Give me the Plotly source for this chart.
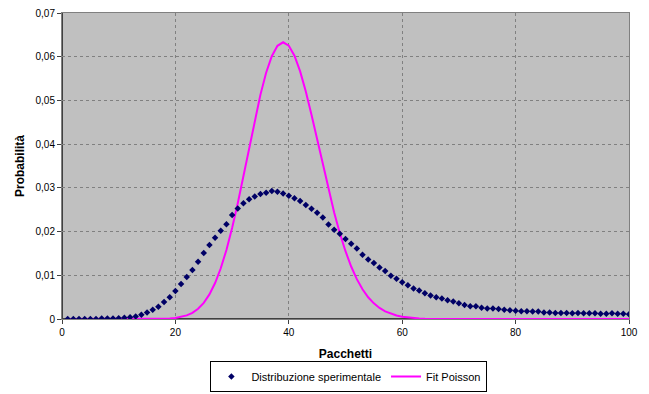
import plotly.graph_objects as go

pacchetti = list(range(1, 101))

distribuzione_sperimentale = [
    0.0000, 0.0000, 0.0000, 0.0000, 0.0000, 0.0000, 0.0001, 0.0001, 0.0001, 0.0002,
    0.0003, 0.0004, 0.0006, 0.0010, 0.0015, 0.0021, 0.0028, 0.0039, 0.0050, 0.0064,
    0.0080, 0.0096, 0.0112, 0.0131, 0.0151, 0.0169, 0.0186, 0.0202, 0.0217, 0.0238,
    0.0253, 0.0265, 0.0274, 0.0280, 0.0286, 0.0289, 0.0293, 0.0291, 0.0287, 0.0282,
    0.0276, 0.0270, 0.0261, 0.0252, 0.0243, 0.0232, 0.0216, 0.0204, 0.0195, 0.0183,
    0.0172, 0.0161, 0.0147, 0.0136, 0.0128, 0.0118, 0.0110, 0.0099, 0.0092, 0.0084,
    0.0077, 0.0070, 0.0065, 0.0059, 0.0054, 0.0050, 0.0047, 0.0043, 0.0040, 0.0036,
    0.0032, 0.0029, 0.0029, 0.0026, 0.0024, 0.0024, 0.0023, 0.0021, 0.0020, 0.0019,
    0.0018, 0.0018, 0.0017, 0.0017, 0.0015, 0.0015, 0.0014, 0.0014, 0.0014, 0.0013,
    0.0014, 0.0013, 0.0013, 0.0013, 0.0012, 0.0012, 0.0013, 0.0012, 0.0012, 0.0011,
]

fit_poisson = [
    0.0, 0.0, 0.0, 0.0, 0.0, 0.0, 0.0, 0.0, 0.0, 0.0,
    0.0, 0.0, 0.0, 0.0, 0.0, 0.00001, 0.00003, 0.00006, 0.00012, 0.00024,
    0.00046, 0.00083, 0.00142, 0.00234, 0.00370, 0.00562, 0.00822, 0.01160, 0.01580, 0.02080,
    0.02650, 0.03271, 0.03915, 0.04548, 0.05133, 0.05632, 0.06013, 0.06250, 0.06330, 0.06251,
    0.06022, 0.05664, 0.05203, 0.04671, 0.04100, 0.03521, 0.02959, 0.02435, 0.01963, 0.01551,
    0.01201, 0.00912, 0.00680, 0.00497, 0.00357, 0.00252, 0.00175, 0.00119, 0.00080, 0.00052,
    0.00034, 0.00022, 0.00014, 0.00008, 0.00005, 0.00003, 0.00002, 0.00001, 0.0, 0.0,
    0.0, 0.0, 0.0, 0.0, 0.0, 0.0, 0.0, 0.0, 0.0, 0.0,
    0.0, 0.0, 0.0, 0.0, 0.0, 0.0, 0.0, 0.0, 0.0, 0.0,
    0.0, 0.0, 0.0, 0.0, 0.0, 0.0, 0.0, 0.0, 0.0, 0.0,
]

x_tick_vals = [0, 20, 40, 60, 80, 100]
x_tick_text = ["0", "20", "40", "60", "80", "100"]
y_tick_vals = [0, 0.01, 0.02, 0.03, 0.04, 0.05, 0.06, 0.07]
y_tick_text = ["0", "0,01", "0,02", "0,03", "0,04", "0,05", "0,06", "0,07"]

font_family = "Liberation Sans, Arial, sans-serif"

fig = go.Figure()
fig.add_trace(go.Scatter(
    x=pacchetti, y=fit_poisson, mode="lines", name="Fit Poisson",
    line=dict(color="#FF00FF", width=2), showlegend=False,
))
fig.add_trace(go.Scatter(
    x=pacchetti, y=distribuzione_sperimentale, mode="markers",
    name="Distribuzione sperimentale",
    marker=dict(symbol="diamond", size=5, color="#000066"),
))
fig.add_trace(go.Scatter(
    x=[None], y=[None], mode="lines", name="Fit Poisson",
    line=dict(color="#FF00FF", width=2),
))

fig.update_layout(
    width=649, height=394,
    margin=dict(l=62, r=20, t=13, b=75, autoexpand=False),
    paper_bgcolor="white",
    plot_bgcolor="#C0C0C0",
    font=dict(family=font_family, size=10, color="black"),
    showlegend=True,
    legend=dict(
        orientation="h", x=0.506, xanchor="center", y=-0.2386, yanchor="bottom",
        bordercolor="black", borderwidth=1, bgcolor="white",
        font=dict(size=11), itemwidth=30, tracegroupgap=0,
    ),
    xaxis=dict(
        range=[0, 100], tickvals=x_tick_vals, ticktext=x_tick_text,
        showgrid=True, gridcolor="#808080", griddash="3px,3px", gridwidth=1,
        showline=True, linecolor="#808080", linewidth=1, mirror=True,
        ticks="outside", ticklen=4, tickcolor="#404040",
        zeroline=False, automargin=False,
        title=dict(text="<b>Pacchetti</b>", font=dict(size=12), standoff=12),
    ),
    yaxis=dict(
        range=[0, 0.07], tickvals=y_tick_vals, ticktext=y_tick_text,
        showgrid=True, gridcolor="#808080", griddash="3px,3px", gridwidth=1,
        showline=True, linecolor="#808080", linewidth=1, mirror=True,
        ticks="outside", ticklen=4, tickcolor="#404040",
        zeroline=False, automargin=False,
        title=dict(text="<b>Probabilità</b>", font=dict(size=12), standoff=8),
    ),
)
fig.add_shape(type="line", xref="paper", yref="paper", x0=0, x1=0, y0=0, y1=1,
              line=dict(color="#404040", width=2), layer="below")
fig.add_shape(type="line", xref="paper", yref="paper", x0=0, x1=1, y0=0, y1=0,
              line=dict(color="#404040", width=2), layer="below")

fig.write_html(
    "out.html",
    config={"displayModeBar": False},
    post_script="document.body.style.margin='0';document.body.style.padding='0';",
)
